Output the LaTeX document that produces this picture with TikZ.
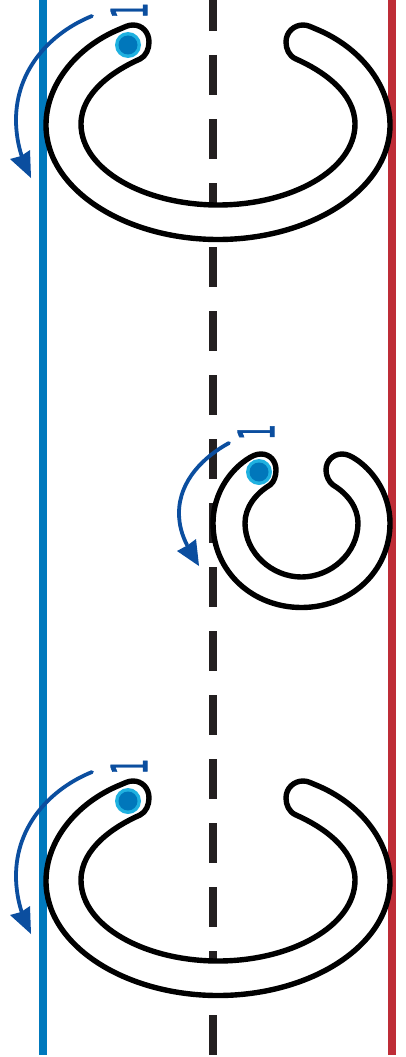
\documentclass[tikz,border=0pt]{standalone}
\usepackage{fontspec}
\setmainfont{DejaVu Sans}
\newfontfamily\onefont[FakeBold=1.2]{DejaVu Sans}
\definecolor{bline}{HTML}{0079BD}
\definecolor{rline}{HTML}{BE2D37}
\definecolor{dline}{HTML}{231F20}
\definecolor{arrowblue}{HTML}{0B4E9F}
\definecolor{dotout}{HTML}{1FB1E0}
\definecolor{dotin}{HTML}{0077BB}
\tikzset{
  ring/.style={draw=black,line width=5.4pt,fill=white,line join=round},
  arc line/.style={draw=arrowblue,line width=3.8pt,line cap=round},
  arc head/.style={fill=arrowblue,draw=none},
  one/.style={text=arrowblue,rotate=90,inner sep=0pt,font=\fontsize{50}{50}\selectfont\onefont},
  dot outer/.style={fill=dotout,draw=none},
  dot inner/.style={fill=dotin,draw=none}
}
\newcommand{\bigring}{
  \path[ring] (140,59)
   .. controls (115,70) and (81,92) .. (81,124)
   .. controls (81,170) and (145,205) .. (218,205)
   .. controls (291,205) and (355,170) .. (355,124)
   .. controls (355,92) and (321,70) .. (296,59)
   .. controls (289,56) and (286,49) .. (286,42)
   .. controls (286,32) and (294,25) .. (303,25)
   .. controls (308,25) and (311,27) .. (316,29)
   .. controls (360,47) and (390,85) .. (390,125)
   .. controls (390,190) and (310,239.5) .. (218,239.5)
   .. controls (126,239.5) and (46,190) .. (46,125)
   .. controls (46,85) and (76,47) .. (120,29)
   .. controls (125,27) and (128,25) .. (133,25)
   .. controls (142,25) and (149,32) .. (149,42)
   .. controls (149,49) and (146,56) .. (140,59) -- cycle;
  \fill[dot outer] (128,45) circle (13);
  \fill[dot inner] (128,45) circle (9.5);
  \path[arc line] (92,16) .. controls (50,33) and (16,70) .. (16,120)
     .. controls (16,132) and (18,145) .. (22,157);
  \path[arc head] (31,178) -- (10,159) -- (21,156) -- (30,150) -- cycle;
}
\begin{document}
\begin{tikzpicture}[x=1pt,y=-1pt]
\useasboundingbox (0,0) rectangle (406,1057);
\fill[white] (0,0) rectangle (406,1057);
\draw[bline,line width=8pt] (43,0) -- (43,1055);
\draw[rline,line width=8pt] (392,0) -- (392,1055);
\draw[dline,line width=8pt,dash pattern=on 40pt off 24pt,dash phase=9pt] (212.5,0) -- (212.5,1055);
% top
\bigring
\node[one] (oneTop) at (129,10.5) {\scalebox{0.5}[1]{1}};
% bottom
\begin{scope}[yshift=-756pt]
\bigring
\node[one] (oneBottom) at (129,10.5) {\scalebox{0.5}[1]{1}};
\end{scope}
% middle
\path[ring] (270,485)
   .. controls (255,494) and (245,508) .. (245,523)
   .. controls (245,553) and (272,577) .. (301.5,577)
   .. controls (331,577) and (358,553) .. (358,523)
   .. controls (358,508) and (348,494) .. (333,485)
   .. controls (329,482) and (326,476) .. (326,470)
   .. controls (326,461) and (333,454) .. (342,454)
   .. controls (347,454) and (351,456) .. (357,460)
   .. controls (377,474) and (390,498) .. (390,523)
   .. controls (390,572) and (350,607.5) .. (301.5,607.5)
   .. controls (253,607.5) and (213,572) .. (213,523)
   .. controls (213,498) and (226,474) .. (246,460)
   .. controls (252,456) and (256,454) .. (261,454)
   .. controls (270,454) and (276,461) .. (276,470)
   .. controls (276,476) and (274,482) .. (270,485) -- cycle;
\fill[dot outer] (259,472) circle (13);
\fill[dot inner] (259,472) circle (9.5);
\path[arc line] (229,443) .. controls (205,456) and (179,480) .. (179,513)
   .. controls (179,525) and (182,535) .. (187,545);
\path[arc head] (199,566) -- (177,551) -- (188,545) -- (196,539) -- cycle;
\node[one] (oneMid) at (256,432) {\scalebox{0.5}[1]{1}};
\end{tikzpicture}
\end{document}
